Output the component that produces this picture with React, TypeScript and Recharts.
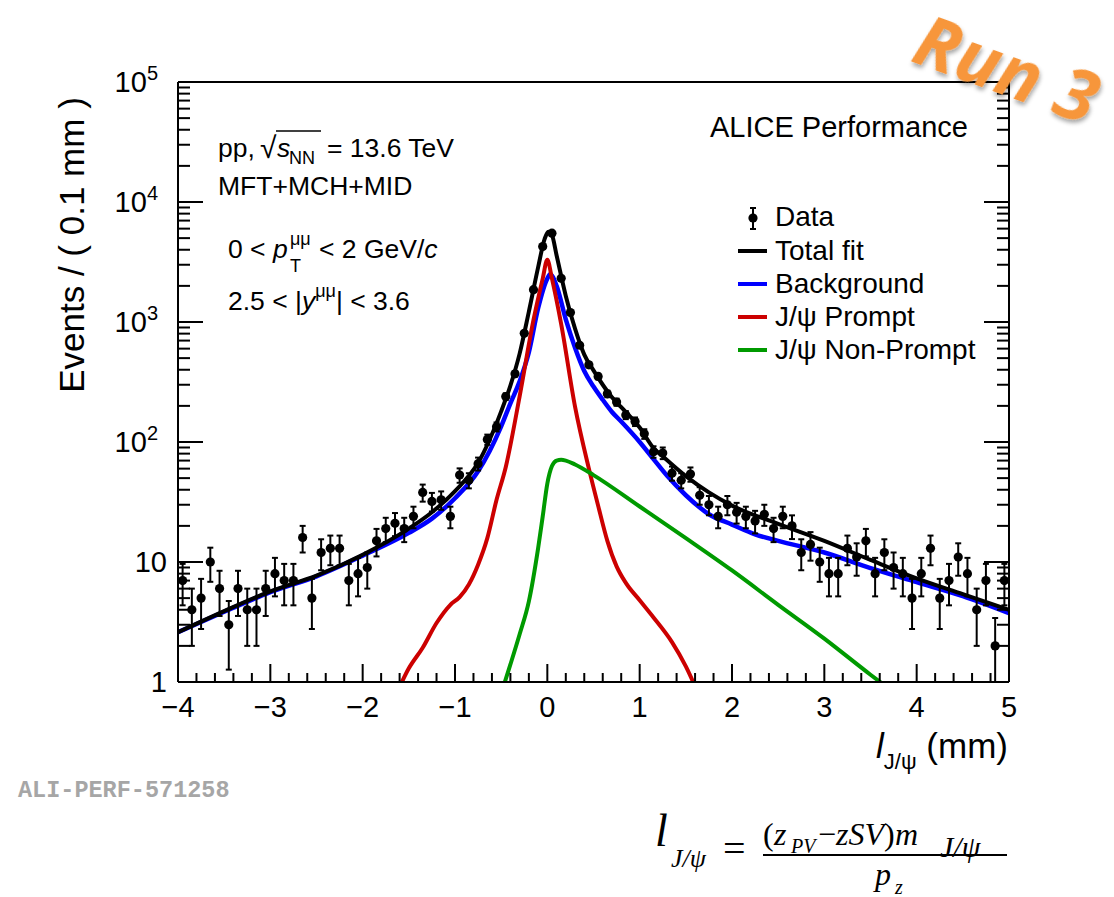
import { ComposedChart, Line, Scatter, ErrorBar, XAxis, YAxis } from 'recharts';

// histogram bins (0.1 mm) and counts
const binCenters = [
  -3.95, -3.85, -3.75, -3.65, -3.55, -3.45, -3.35, -3.25, -3.15, -3.05,
  -2.95, -2.85, -2.75, -2.65, -2.55, -2.45, -2.35, -2.25, -2.15, -2.05,
  -1.95, -1.85, -1.75, -1.65, -1.55, -1.45, -1.35, -1.25, -1.15, -1.05,
  -0.95, -0.85, -0.75, -0.65, -0.55, -0.45, -0.35, -0.25, -0.15, -0.05,
  0.05, 0.15, 0.25, 0.35, 0.45, 0.55, 0.65, 0.75, 0.85, 0.95,
  1.05, 1.15, 1.25, 1.35, 1.45, 1.55, 1.65, 1.75, 1.85, 1.95,
  2.05, 2.15, 2.25, 2.35, 2.45, 2.55, 2.65, 2.75, 2.85, 2.95,
  3.05, 3.15, 3.25, 3.35, 3.45, 3.55, 3.65, 3.75, 3.85, 3.95,
  4.05, 4.15, 4.25, 4.35, 4.45, 4.55, 4.65, 4.75, 4.85, 4.95,
];
const counts = [
  7, 4, 5, 10, 6, 3, 6, 4, 4, 6,
  8, 7, 7, 16, 5, 12, 13, 13, 7, 8,
  9, 15, 19, 21, 19, 24, 38, 32, 33, 24,
  53, 48, 66, 105, 134, 239, 370, 805, 1860, 4250,
  5500, 2310, 1200, 640, 440, 352, 252, 215, 168, 148,
  117, 83, 81, 55, 48, 54, 36, 30, 24, 30,
  26, 24, 22, 25, 19, 24, 20, 12, 14, 10,
  8, 8, 13, 11, 15, 8, 12, 9, 8, 5,
  8, 13, 5, 7, 11, 8, 4, 7, 2, 7,
];

// fit curves, sampled by eye
const totalX = [-4, -3.5, -3, -2.5, -2, -1.5, -1.25, -1, -0.75, -0.5, -0.4, -0.3, -0.2, -0.1, -0.03, 0.01, 0.05, 0.1, 0.2, 0.3, 0.4, 0.5, 0.6, 0.7, 0.8, 1.0, 1.15, 1.25, 1.5, 1.75, 2.0, 2.5, 3.0, 3.5, 4.0, 4.5, 5.0];
const totalY = [2.6, 3.9, 5.7, 7.7, 11.5, 19, 26, 39, 67, 180, 295, 545, 1220, 2850, 4900, 5650, 5300, 3600, 1650, 880, 535, 395, 300, 236, 195, 132, 89, 76, 52, 38, 29.5, 20.8, 15, 10.4, 7.3, 5.4, 4.0];

const bkgX = [-4, -3.5, -3, -2.5, -2, -1.5, -1.25, -1, -0.75, -0.5, -0.4, -0.3, -0.2, -0.1, 0, 0.03, 0.1, 0.2, 0.3, 0.4, 0.5, 0.6, 0.7, 0.8, 1.0, 1.15, 1.3, 1.5, 1.75, 2.0, 2.25, 2.5, 3.0, 3.5, 4.0, 4.5, 5.0];
const bkgY = [2.6, 3.85, 5.6, 7.6, 11.3, 17.5, 23, 34, 57, 135, 210, 320, 560, 1300, 2300, 2500, 2000, 1050, 610, 390, 290, 225, 178, 148, 100, 72, 52, 36, 25, 20.5, 17, 15, 12, 8.9, 6.8, 5.2, 3.75];

const promptX = [-1.65, -1.5, -1.35, -1.2, -1.05, -0.95, -0.85, -0.75, -0.65, -0.55, -0.45, -0.3, -0.15, -0.05, 0, 0.05, 0.15, 0.3, 0.45, 0.55, 0.65, 0.75, 0.85, 1.0, 1.15, 1.35, 1.5, 1.65];
const promptY = [0.75, 1.3, 1.93, 3.1, 4.4, 5.1, 6.5, 9.5, 15.8, 33, 62, 240, 1040, 2300, 3300, 2300, 960, 197, 60, 29.5, 15, 9.2, 6.7, 4.8, 3.45, 2.15, 1.35, 0.75];

const nonPromptX = [-0.5, -0.4, -0.3, -0.2, -0.1, -0.05, 0, 0.05, 0.1, 0.15, 0.2, 0.3, 0.5, 1.0, 1.5, 2.0, 2.5, 3.0, 3.5, 3.7];
const nonPromptY = [0.8, 1.4, 2.5, 4.7, 13, 24, 45, 63, 70, 71, 70, 65, 53, 29, 15.8, 8.5, 4.4, 2.3, 1.15, 0.88];

const xTicks = [
  -4, -3.8, -3.6, -3.4, -3.2, -3, -2.8, -2.6, -2.4, -2.2, -2, -1.8, -1.6, -1.4, -1.2,
  -1, -0.8, -0.6, -0.4, -0.2, 0, 0.2, 0.4, 0.6, 0.8, 1, 1.2, 1.4, 1.6, 1.8, 2,
  2.2, 2.4, 2.6, 2.8, 3, 3.2, 3.4, 3.6, 3.8, 4, 4.2, 4.4, 4.6, 4.8, 5,
];
const yTicks = [
  1, 2, 3, 4, 5, 6, 7, 8, 9,
  10, 20, 30, 40, 50, 60, 70, 80, 90,
  100, 200, 300, 400, 500, 600, 700, 800, 900,
  1000, 2000, 3000, 4000, 5000, 6000, 7000, 8000, 9000,
  10000, 20000, 30000, 40000, 50000, 60000, 70000, 80000, 90000,
  100000,
];
const yMajor = [1, 10, 100, 1000, 10000, 100000];

const FONT = "'Liberation Sans', Arial, Helvetica, sans-serif";
const SERIF = "'Liberation Serif', 'Times New Roman', serif";

// poisson errors; the lower bar stops at the frame (y = 1) like in the original
const dataPts = binCenters.map((x, i) => {
  const e = Math.sqrt(counts[i]);
  return { x, y: counts[i], err: [Math.min(e, counts[i] - 1), e] };
});
const toPts = (xs: number[], ys: number[]) => xs.map((x, i) => ({ x, y: ys[i] }));

const fmtX = (v: number) => (v < 0 ? '\u2212' + Math.abs(v) : String(v));

const BottomTick = (p: any) => {
  const { x, y, payload } = p;
  const major = Number.isInteger(payload.value);
  return (
    <g>
      <line x1={x} x2={x} y1={y} y2={y - (major ? 18 : 9)} stroke="#000" strokeWidth={2} />
      {major && (
        <text x={x} y={y + 35} textAnchor="middle" fontSize={29} fontFamily={FONT} fill="#000">
          {fmtX(payload.value)}
        </text>
      )}
    </g>
  );
};

const TopTick = (p: any) => {
  const { x, y, payload } = p;
  const major = Number.isInteger(payload.value);
  return <line x1={x} x2={x} y1={y} y2={y + (major ? 18 : 9)} stroke="#000" strokeWidth={2} />;
};

const LeftTick = (p: any) => {
  const { x, y, payload } = p;
  const v = payload.value;
  const major = yMajor.includes(v);
  const exp = Math.round(Math.log10(v));
  return (
    <g>
      <line x1={x} x2={x + (major ? 25 : 12)} y1={y} y2={y} stroke="#000" strokeWidth={2} />
      {major && exp < 2 && (
        <text x={x - 11} y={y + 10} textAnchor="end" fontSize={29} fontFamily={FONT} fill="#000">
          {exp === 0 ? '1' : '10'}
        </text>
      )}
      {major && exp >= 2 && (
        <text x={x - 20} y={y + 10} textAnchor="end" fontSize={29} fontFamily={FONT} fill="#000">
          10<tspan fontSize={20} dy={-12}>{exp}</tspan>
        </text>
      )}
    </g>
  );
};

const RightTick = (p: any) => {
  const { x, y, payload } = p;
  const major = yMajor.includes(payload.value);
  return <line x1={x} x2={x - (major ? 25 : 12)} y1={y} y2={y} stroke="#000" strokeWidth={2} />;
};

const legendRows = [
  { label: 'Total fit', color: '#000000' },
  { label: 'Background', color: '#0000ff' },
  { label: 'J/\u03c8 Prompt', color: '#cc0000' },
  { label: 'J/\u03c8 Non-Prompt', color: '#009a00' },
];

const frame = { stroke: '#000', strokeWidth: 2 };

export default function App() {
  return (
    <div style={{ position: 'absolute', left: 0, top: 0, width: 1114, height: 897, background: '#fff' }}>
      <ComposedChart width={1114} height={897} margin={{ top: 81, right: 104, bottom: 214, left: 118 }}>
        <XAxis
          dataKey="x"
          type="number"
          domain={[-4, 5]}
          allowDataOverflow
          ticks={xTicks}
          interval={0}
          height={1}
          tickSize={0}
          tickMargin={0}
          tickLine={false}
          axisLine={frame}
          tick={(p: any) => <BottomTick {...p} />}
        />
        <XAxis
          xAxisId="top"
          orientation="top"
          type="number"
          domain={[-4, 5]}
          allowDataOverflow
          ticks={xTicks}
          interval={0}
          height={1}
          tickSize={0}
          tickMargin={0}
          tickLine={false}
          axisLine={frame}
          tick={(p: any) => <TopTick {...p} />}
        />
        <YAxis
          type="number"
          scale="log"
          domain={[1, 100000]}
          allowDataOverflow
          ticks={yTicks}
          interval={0}
          width={60}
          tickSize={0}
          tickMargin={0}
          tickLine={false}
          axisLine={frame}
          tick={(p: any) => <LeftTick {...p} />}
        />
        <YAxis
          yAxisId="right"
          orientation="right"
          type="number"
          scale="log"
          domain={[1, 100000]}
          allowDataOverflow
          ticks={yTicks}
          interval={0}
          width={1}
          tickSize={0}
          tickMargin={0}
          tickLine={false}
          axisLine={frame}
          tick={(p: any) => <RightTick {...p} />}
        />
        <Line data={toPts(bkgX, bkgY)} dataKey="y" type="monotone" stroke="#0000ff" strokeWidth={4.5} dot={false} isAnimationActive={false} />
        <Line data={toPts(promptX, promptY)} dataKey="y" type="monotone" stroke="#cc0000" strokeWidth={4} dot={false} isAnimationActive={false} />
        <Line data={toPts(nonPromptX, nonPromptY)} dataKey="y" type="monotone" stroke="#009a00" strokeWidth={4} dot={false} isAnimationActive={false} />
        <Line data={toPts(totalX, totalY)} dataKey="y" type="monotone" stroke="#000000" strokeWidth={4} dot={false} isAnimationActive={false} />
        <Scatter
          data={dataPts}
          dataKey="y"
          fill="#000"
          isAnimationActive={false}
          shape={(p: any) => <circle cx={p.cx} cy={p.cy} r={4.6} fill="#000" />}
        >
          <ErrorBar dataKey="err" direction="y" width={3} stroke="#000" strokeWidth={2} isAnimationActive={false} />
        </Scatter>
      </ComposedChart>

      <svg width={1114} height={897} style={{ position: 'absolute', left: 0, top: 0, pointerEvents: 'none' }}>
        <defs>
          <filter id="runShadow" x="-20%" y="-30%" width="140%" height="160%">
            <feDropShadow dx="2" dy="3" stdDeviation="2" floodColor="#000" floodOpacity="0.35" />
          </filter>
        </defs>

        {/* axis titles */}
        <text x={84} y={245} transform="rotate(-90 84 245)" textAnchor="middle" fontSize={35} fontFamily={FONT}>
          Events / ( 0.1 mm )
        </text>
        <text x={1008} y={758} textAnchor="end" fontSize={35} fontFamily={FONT}>
          <tspan fontStyle="italic">l</tspan>
          <tspan fontSize={22} dy={11}>J/{'\u03c8'}</tspan>
          <tspan dy={-11}> (mm)</tspan>
        </text>

        {/* annotations */}
        <g fontFamily={FONT} fontSize={26.5} fill="#000">
          <text x={218} y={157}>pp,</text>
          <text x={260} y={158} fontSize={30}>{'\u221a'}</text>
          <line x1={276} x2={321} y1={131} y2={131} stroke="#000" strokeWidth={1.5} />
          <text x={277} y={157} fontStyle="italic">s</text>
          <text x={289} y={164} fontSize={18}>NN</text>
          <text x={327} y={157}>= 13.6 TeV</text>
          <text x={218} y={195}>MFT+MCH+MID</text>
          <text x={228} y={258}>
            0 &lt; <tspan fontStyle="italic">p</tspan>
          </text>
          <text x={290} y={245} fontSize={18}>{'\u03bc\u03bc'}</text>
          <text x={290} y={272} fontSize={18}>T</text>
          <text x={319} y={258}>&lt; 2 GeV/<tspan fontStyle="italic">c</tspan></text>
          <text x={228} y={310}>
            2.5 &lt; |<tspan fontStyle="italic">y</tspan>
            <tspan fontSize={18} dy={-13}>{'\u03bc\u03bc'}</tspan>
            <tspan dy={13}>| &lt; 3.6</tspan>
          </text>
          <text x={710} y={137} fontSize={29}>ALICE Performance</text>
        </g>

        {/* legend */}
        <g fontFamily={FONT} fontSize={28} fill="#000">
          <line x1={753} x2={753} y1={208} y2={229} stroke="#000" strokeWidth={2} />
          <line x1={750} x2={756} y1={208} y2={208} stroke="#000" strokeWidth={2} />
          <line x1={750} x2={756} y1={229} y2={229} stroke="#000" strokeWidth={2} />
          <circle cx={753} cy={218} r={4.6} fill="#000" />
          <text x={775} y={226}>Data</text>
          {legendRows.map((r, i) => (
            <g key={r.label}>
              <line x1={738} x2={767} y1={251 + i * 33} y2={251 + i * 33} stroke={r.color} strokeWidth={4} />
              <text x={775} y={260 + i * 33}>{r.label}</text>
            </g>
          ))}
        </g>

        {/* Run 3 stamp */}
        <text
          x={998}
          y={93}
          transform="rotate(20 998 93)"
          textAnchor="middle"
          fontSize={72}
          fontWeight="bold"
          fontStyle="italic"
          fontFamily="'Open Sans', 'Liberation Sans', sans-serif"
          fill="#f7963b"
          filter="url(#runShadow)"
        >
          Run 3
        </text>

        <text x={18} y={797} fontSize={23.5} fontWeight="bold" fontFamily="'Liberation Mono', 'Courier New', monospace" fill="#a6a6a6">
          ALI-PERF-571258
        </text>

        {/* decay length definition */}
        <g fontFamily={SERIF} fill="#000">
          <text x={655} y={846} fontSize={46} fontStyle="italic">l</text>
          <text x={671} y={867} fontSize={26} fontStyle="italic">J/{'\u03c8'}</text>
          <text x={723} y={862} fontSize={40}>=</text>
          <line x1={763} x2={1007} y1={855} y2={855} stroke="#000" strokeWidth={2} />
          <text x={763} y={845} fontSize={32}>(</text>
          <text x={774} y={845} fontSize={32} fontStyle="italic">z</text>
          <text x={791} y={853} fontSize={20} fontStyle="italic">PV</text>
          <text x={818} y={845} fontSize={32}>{'\u2212'}</text>
          <text x={836} y={845} fontSize={32} fontStyle="italic">zSV</text>
          <text x={884} y={845} fontSize={32}>)</text>
          <text x={895} y={845} fontSize={32} fontStyle="italic">m</text>
          <text x={940} y={857} fontSize={30} fontStyle="italic">J/{'\u03c8'}</text>
          <text x={875} y={885} fontSize={32} fontStyle="italic">p</text>
          <text x={895} y={894} fontSize={20} fontStyle="italic">z</text>
        </g>
      </svg>
    </div>
  );
}
